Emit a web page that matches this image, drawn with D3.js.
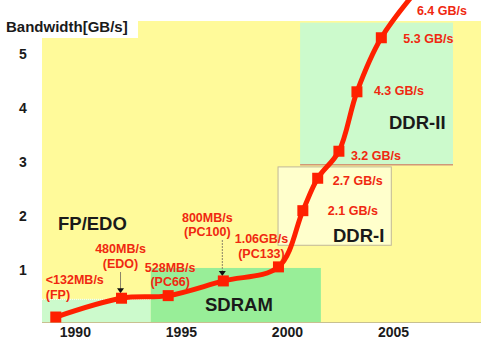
<!DOCTYPE html>
<html>
<head>
<meta charset="utf-8">
<script src="https://cdn.jsdelivr.net/npm/d3@7/dist/d3.min.js"></script>
<style>
  html, body { margin: 0; padding: 0; background: #ffffff; }
  svg { display: block; }
  text { font-family: "Liberation Sans", Arial, sans-serif; }
</style>
</head>
<body>
<script>
// Memory bandwidth by year and module generation
const years      = [1989.1, 1992.2, 1994.4, 1997.0, 1999.6, 2000.75, 2001.45, 2002.45, 2003.3, 2004.45, 2006.6];
const bandwidth  = [0.132, 0.48, 0.528, 0.8, 1.06, 2.1, 2.7, 3.2, 4.3, 5.3, 6.4];
const rateLabels = ["<132MB/s", "480MB/s", "528MB/s", "800MB/s", "1.06GB/s", "2.1 GB/s", "2.7 GB/s", "3.2 GB/s", "4.3 GB/s", "5.3 GB/s", "6.4 GB/s"];
const typeLabels = ["(FP)", "(EDO)", "(PC66)", "(PC100)", "(PC133)", "", "", "", "", "", ""];
const hasMarker  = [true, true, true, true, true, true, true, true, true, true, false];

// Memory generations: year span and bandwidth span of each shaded band
const eraNames = ["FP/EDO", "SDRAM", "DDR-I", "DDR-II"];
const eraStart = [1988.45, 1993.58, 1999.58, 2000.62];
const eraEnd   = [1993.58, 2001.6, 2004.92, 2007.83];
const eraLow   = [0.04, 0.04, 1.46, 2.96];
const eraHigh  = [0.46, 1.04, 2.91, 5.58];

const xTicks = [1990, 1995, 2000, 2005];
const yTicks = [1, 2, 3, 4, 5];

const W = 500, H = 342;
const plot = { left: 42, right: 481, top: 21, bottom: 322 };

const x = d3.scaleLinear().domain([1988.45, 2009.15]).range([plot.left, plot.right]);
const y = d3.scaleLinear().domain([0.04, 5.61]).range([plot.bottom, plot.top]);

const svg = d3.select("body").append("svg").attr("width", W).attr("height", H);

// plot background
svg.append("rect")
  .attr("x", plot.left).attr("y", plot.top)
  .attr("width", plot.right - plot.left).attr("height", plot.bottom - plot.top)
  .attr("fill", "#fffa9a");

// era bands
const eraFill   = ["#ccfacc", "#98ee98", "#ffffcc", "#ccfacc"];
const eraStroke = ["none", "none", "#c0b898", "none"];
const bands = svg.append("g");
eraNames.forEach((name, i) => {
  bands.append("rect")
    .attr("x", x(eraStart[i])).attr("y", y(eraHigh[i]))
    .attr("width", x(eraEnd[i]) - x(eraStart[i]))
    .attr("height", y(eraLow[i]) - y(eraHigh[i]))
    .attr("fill", eraFill[i])
    .attr("stroke", eraStroke[i]).attr("stroke-width", 1);
});
// dotted top edge of the FP/EDO band
bands.append("line")
  .attr("x1", x(eraStart[0])).attr("x2", x(eraEnd[0]))
  .attr("y1", y(eraHigh[0])).attr("y2", y(eraHigh[0]))
  .attr("stroke", "#ffffff").attr("stroke-width", 1).attr("stroke-dasharray", "1,1");
// lower edge of the DDR-II band
bands.append("line")
  .attr("x1", x(eraStart[3])).attr("x2", x(eraEnd[3]))
  .attr("y1", y(eraLow[3]) + 0.5).attr("y2", y(eraLow[3]) + 0.5)
  .attr("stroke", "#d09878").attr("stroke-width", 1.5);

// white notch behind the axis title
svg.append("rect").attr("x", 0).attr("y", 0).attr("width", 138).attr("height", 38).attr("fill", "#ffffff");

// baseline
svg.append("line")
  .attr("x1", plot.left).attr("x2", plot.right)
  .attr("y1", plot.bottom + 0.5).attr("y2", plot.bottom + 0.5)
  .attr("stroke", "#c8c090").attr("stroke-width", 1);

// era names
const eraNamePos = [[58, 230], [205, 311], [333, 242], [389, 129]];
eraNames.forEach((name, i) => {
  svg.append("text")
    .attr("x", eraNamePos[i][0]).attr("y", eraNamePos[i][1])
    .attr("font-size", 18.5).attr("font-weight", "bold").attr("fill", "#1a1a1a")
    .text(name);
});

// axes
const xAxis = svg.append("g")
  .attr("transform", `translate(0,${plot.bottom})`)
  .call(d3.axisBottom(x).tickValues(xTicks).tickFormat(d3.format("d")).tickSize(0).tickPadding(5));
const yAxis = svg.append("g")
  .attr("transform", `translate(${plot.left},0)`)
  .call(d3.axisLeft(y).tickValues(yTicks).tickFormat(d3.format("d")).tickSize(0));
[xAxis, yAxis].forEach(g => {
  g.select(".domain").remove();
  g.selectAll("text")
    .attr("font-family", "'Liberation Sans', Arial, sans-serif")
    .attr("font-size", 14).attr("font-weight", "bold").attr("fill", "#1a1a1a");
});
yAxis.selectAll("text").attr("text-anchor", "middle").attr("x", -19);

svg.append("text")
  .attr("x", 6).attr("y", 32)
  .attr("font-size", 15).attr("font-weight", "bold").attr("fill", "#1a1a1a")
  .text("Bandwidth[GB/s]");

// pointer arrows onto the EDO and PC100 points
function pointer(i, top, dashed) {
  const px = x(years[i]) - 1, tip = y(bandwidth[i]) - 5;
  svg.append("line")
    .attr("x1", px).attr("x2", px).attr("y1", top).attr("y2", tip - 4)
    .attr("stroke", "#8a8468").attr("stroke-width", 1)
    .attr("stroke-dasharray", dashed ? "2,1" : null);
  svg.append("path")
    .attr("d", `M${px - 3.5},${tip - 5}L${px + 3.5},${tip - 5}L${px},${tip}Z`)
    .attr("fill", "#111111");
}
pointer(1, 272, false);
pointer(3, 240, true);

// bandwidth curve
const pts = years.map((yr, i) => [x(yr), y(bandwidth[i])]);
svg.append("path")
  .attr("d", d3.line().curve(d3.curveCatmullRom.alpha(0.5))(pts))
  .attr("fill", "none").attr("stroke", "#ff2000")
  .attr("stroke-width", 5).attr("stroke-linecap", "round").attr("stroke-linejoin", "round");

// point markers
const m = 11;
svg.append("g").selectAll("rect")
  .data(pts.filter((p, i) => hasMarker[i]))
  .join("rect")
  .attr("x", d => d[0] - m / 2).attr("y", d => d[1] - m / 2)
  .attr("width", m).attr("height", m)
  .attr("fill", "#ff2000");

// value annotations: [dx, dy of first line, dy of second line, anchor] from each point
const labelPlacement = [
  [-10, -33, -18, "start"],
  [-1, -45, -30, "middle"],
  [2, -24, -10, "middle"],
  [-16, -59, -45, "middle"],
  [-17, -24, -9, "middle"],
  [25, 4, 0, "start"],
  [15, 7, 0, "start"],
  [12, 9, 0, "start"],
  [17, 3, 0, "start"],
  [22, 5, 0, "start"],
  [-10, 37, 0, "start"]
];
const notes = svg.append("g")
  .attr("font-size", 12.5).attr("font-weight", "bold").attr("fill", "#f02810");
pts.forEach((p, i) => {
  const [dx, dy1, dy2, anchor] = labelPlacement[i];
  notes.append("text")
    .attr("x", p[0] + dx).attr("y", p[1] + dy1).attr("text-anchor", anchor)
    .text(rateLabels[i]);
  if (typeLabels[i]) {
    notes.append("text")
      .attr("x", p[0] + dx).attr("y", p[1] + dy2).attr("text-anchor", anchor)
      .text(typeLabels[i]);
  }
});
</script>
</body>
</html>
